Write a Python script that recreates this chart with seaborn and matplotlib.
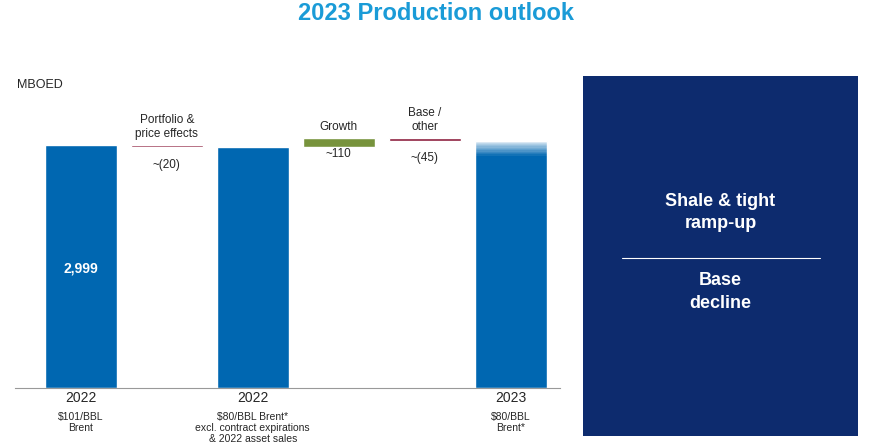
import matplotlib
matplotlib.use("Agg")
import matplotlib.pyplot as plt
import matplotlib.transforms as mtransforms
from matplotlib.patches import Rectangle
import seaborn as sns
import pandas as pd

sns.set_style("white")
plt.rcParams['font.family'] = ['Liberation Sans', 'DejaVu Sans']

start_value = 2999
steps = [-20, 110, -45]
step_names = ["Portfolio &\nprice effects", "Growth", "Base /\nother"]
step_labels = ["~(20)", "~110", "~(45)"]
total_names = ["2022\n$101/BBL\nBrent",
               "2022\n$80/BBL Brent*\nexcl. contract expirations\n& 2022 asset sales",
               "2023\n$80/BBL\nBrent*"]

blue = "#0067b1"
red = "#8c1d3c"
green = "#77933c"
navy = "#0d2b6e"

mid = start_value + steps[0]
end = mid + steps[1] + steps[2]
totals = [start_value, mid, end]

fig = plt.figure(figsize=(8.72, 4.47), dpi=100)
ax = fig.add_axes([0.017, 0.132, 0.625, 0.644])

df = pd.DataFrame({"pos": [0, 2, 5], "value": totals})
ax.bar(df["pos"], df["value"], width=0.84, color=blue)

# floating steps
ax.bar(1, abs(steps[0]), bottom=mid, width=0.84, color=red)
ax.bar(3, steps[1], bottom=mid, width=0.84, color=green)
ax.bar(4, abs(steps[2]), bottom=end, width=0.84, color=red)

# faded top on last bar
for i in range(12):
    ax.add_patch(Rectangle((5 - 0.42, end - 190 + i * 16), 0.84, 16,
                           color="white", alpha=i / 12 * 0.9, lw=0))

ax.set_xlim(-0.767, 5.57)
ax.set_ylim(0, 3554)
ax.set_xticks([])
ax.set_yticks([])
for s in ["top", "right", "left"]:
    ax.spines[s].set_visible(False)
ax.spines["bottom"].set_color("#999999")

ax.text(0, 1480, "2,999", color="white", ha="center", va="center",
        fontsize=10, fontweight="bold")

tops = [start_value, mid + steps[1], mid + steps[1]]
for i, (x, t) in enumerate(zip([1, 3, 4], tops)):
    ax.text(x, t + 60, step_names[i], ha="center", va="bottom", fontsize=8.5)
    ax.text(x, t - (170 if i != 1 else 130), step_labels[i], ha="center", va="top", fontsize=8.5)

trans = mtransforms.blended_transform_factory(ax.transData, fig.transFigure)
for x, name in zip([0, 2, 5], total_names):
    lines = name.split("\n")
    fig.text(0, 0, "")
    ax.text(x, 1 - 398 / 447, lines[0], transform=trans, ha="center", va="center", fontsize=10)
    ax.text(x, 1 - 412 / 447, "\n".join(lines[1:]), transform=trans, ha="center",
            va="top", fontsize=7.5, linespacing=1.1)

fig.text(0.02, 1 - 85 / 447, "MBOED", fontsize=9, va="center")
fig.text(0.5, 1 - 14 / 447, "2023 Production outlook", ha="center", va="center",
         fontsize=17, fontweight="bold", color="#1a9bd7")

# right panel
pax = fig.add_axes([583 / 872, 1 - 436 / 447, 275 / 872, 360 / 447])
pax.set_facecolor(navy)
pax.set_xticks([])
pax.set_yticks([])
for s in pax.spines.values():
    s.set_visible(False)
pax.text(0.5, 0.62, "Shale & tight\nramp-up", ha="center", va="center", color="white",
         fontsize=13, fontweight="bold", transform=pax.transAxes, linespacing=1.4)
pax.plot([0.14, 0.86], [0.495, 0.495], color="white", lw=0.8, transform=pax.transAxes)
pax.text(0.5, 0.4, "Base\ndecline", ha="center", va="center", color="white",
         fontsize=13, fontweight="bold", transform=pax.transAxes, linespacing=1.4)

fig.savefig("out.png", dpi=100)
